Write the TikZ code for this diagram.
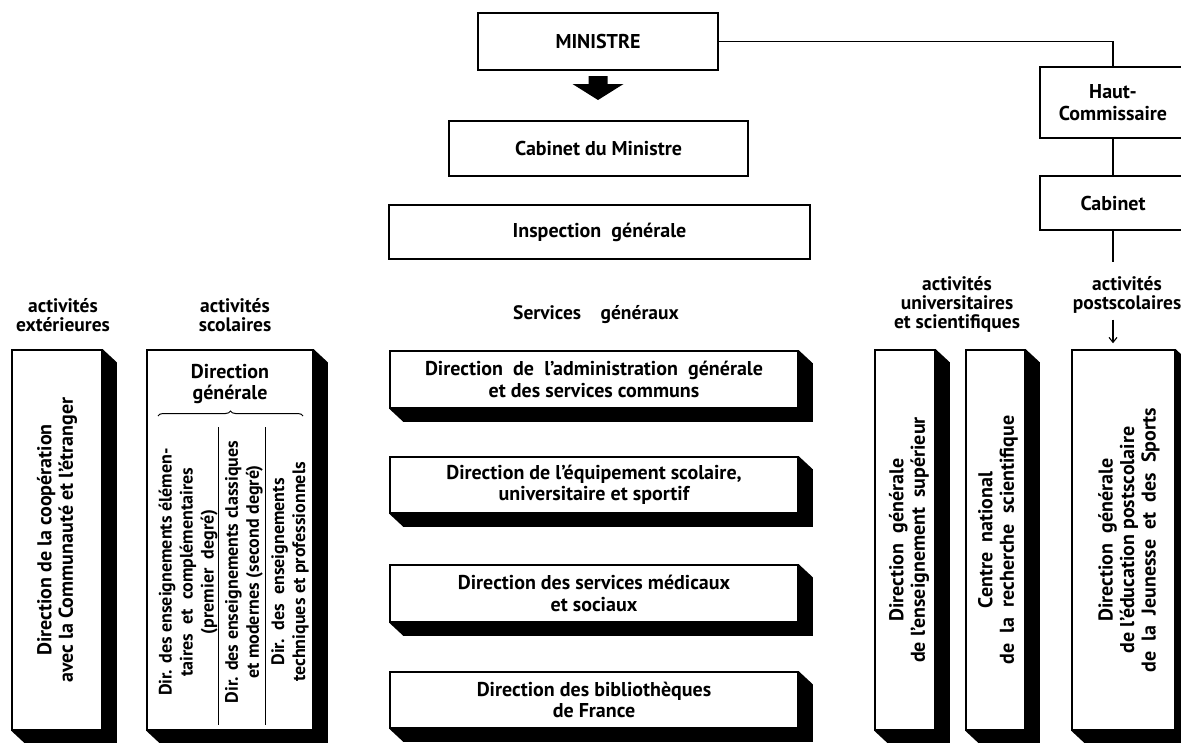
\documentclass[tikz,border=0pt]{standalone}
\usepackage{fontspec}
\setmainfont{PT Sans}
\usetikzlibrary{calc,arrows.meta,decorations.pathreplacing}

\begin{document}
\begin{tikzpicture}[x=1pt,y=-1pt,
  font=\fontsize{20}{21.5}\selectfont\bfseries,
  box/.style={draw,line width=1.5pt,inner sep=0pt,align=center},
  lbl/.style={align=center,inner sep=0pt,font=\fontsize{19.5}{19}\selectfont\bfseries},
  vtxt/.style={rotate=90,align=center,inner sep=0pt},
  coltxt/.style={vtxt,font=\fontsize{18}{21}\selectfont\bfseries},
  link/.style={line width=1.1pt}
]
\useasboundingbox (0,0) rectangle (1181,742);
\clip (0,0) rectangle (1181,742);

% top of the chart
\node[box,minimum width=240,minimum height=57] (min) at (598,41.5) {MINISTRE};
\node[box,minimum width=299,minimum height=55] (cabmin) at (598.5,148.5) {Cabinet du Ministre};
\node[box,minimum width=421,minimum height=54] (insp) at (599.5,232) {Inspection\ \ générale};
\coordinate (fat) at (598,76);
\fill[shift={(fat)}] (-9.5,0) -- (9.5,0) -- (9.5,8) -- (25.5,8) -- (0,24) -- (-25.5,8) -- (-9.5,8) -- cycle;

\node[box,minimum width=146,minimum height=71] (haut) at (1113,102.5) {Haut-\\Commissaire};
\node[box,minimum width=146,minimum height=54] (cabhc) at (1113,203) {Cabinet};
\coordinate (postend) at (1113,262);
\draw[link] (min.east) -- (min.east -| haut.north) -- (haut.north);
\draw[link] (haut.south) -- (cabhc.north);
\draw[link] (cabhc.south) -- (postend);

% headings
\node[lbl] (extlab) at (63,315) {activités\\extérieures};
\node[lbl] (scollab) at (235,315) {activités\\scolaires};
\node[lbl] (servlab) at (596,315) {Services\quad généraux};
\node[lbl] (univlab) at (957,304) {activités\\universitaires\\et scientifiques};
\node[lbl] (postlab) at (1127,295) {activités\\postscolaires};

% slabs
\node[box,minimum width=90,minimum height=380] (coop) at (57,540) {};
\node[box,minimum width=166,minimum height=380] (scol) at (230,540) {};
\node[box,minimum width=60,minimum height=380] (sup) at (905,540) {};
\node[box,minimum width=59,minimum height=380] (cnrs) at (995.5,540) {};
\node[box,minimum width=103,minimum height=380] (jeun) at (1123.5,540) {};
\node[box,minimum width=408,minimum height=57] (adm) at (594,379.5) {Direction\ \ de\ \ l'administration\ \ générale\\et des services communs};
\node[box,minimum width=408,minimum height=56] (equip) at (594,485) {Direction\ de\ l'équipement\ scolaire,\\universitaire\ et\ sportif};
\node[box,minimum width=408,minimum height=57] (med) at (594,593.5) {Direction\ des\ services\ médicaux\\et\ sociaux};
\node[box,minimum width=408,minimum height=56] (bib) at (594,700) {Direction\ des\ bibliothèques\\de\ France};
\foreach \n in {coop,scol,sup,cnrs,jeun,adm,equip,med,bib}
  \fill (\n.north east) -- ++(14,13) -- ($(\n.south east)+(14,13)$) -- ($(\n.south west)+(14,13)$)
    -- (\n.south west) -- (\n.south east) -- cycle;

\draw[link,-{Straight Barb[length=5pt,width=8pt]}] ($(postlab.south -| cabhc.south)+(0,6)$) -- ($(jeun.north -| cabhc.south)+(0,-6)$);

% texts of the slabs
\node[vtxt] (coop-t) at (coop) {Direction de la coopération\\avec la Communauté et l'étranger};
\node[align=center] (dg) at (230,384) {Direction\\générale};
\draw[line width=1pt,decorate,decoration={brace,amplitude=5pt}] (158,416) -- (303,416);
\draw[line width=1pt] (218,427) -- (218,725) (265,427) -- (265,725);
\node[coltxt] (col1) at (188,572) {Dir. des enseignements élémen-\\taires\ \ et\ \ complémentaires\\(premier\ \ degré)};
\node[coltxt] (col2) at (244,572) {Dir. des enseignements classiques\\et modernes (second degré)};
\node[coltxt] (col3) at (290,572) {Dir.\ \ des\ \ enseignements\\techniques et professionnels};
\node[vtxt] (sup-t) at (909,540) {Direction\ \ générale\\de l'enseignement\ \ supérieur};
\node[vtxt] (cnrs-t) at (998,540) {Centre\ \ national\\de\ \ la\ \ recherche\ \ scientifique};
\node[vtxt] (jeun-t) at (1129,540) {Direction\ \ générale\\de l'éducation postscolaire\\de\ \ la\ \ Jeunesse\ \ et\ \ des\ \ Sports};
\end{tikzpicture}
\end{document}
